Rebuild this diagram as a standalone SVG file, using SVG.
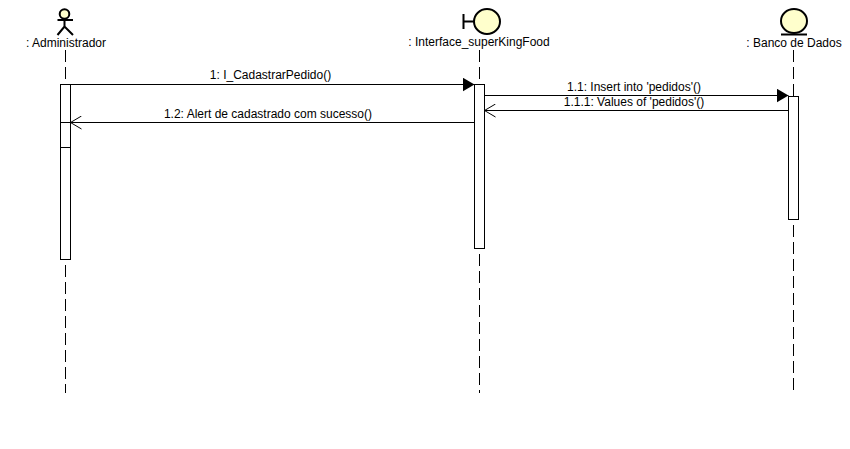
<svg xmlns="http://www.w3.org/2000/svg" width="850" height="449" viewBox="0 0 850 449">
<style>
text{font-family:"Liberation Sans",Arial,sans-serif;font-size:12px;fill:#000}
.m{text-anchor:middle}
.l{stroke:#000;stroke-width:1;fill:none}
.life{stroke:#000;stroke-width:1;fill:none;stroke-dasharray:12 5}
.act{stroke:#000;stroke-width:1;fill:#fff}
.ic{stroke:#000;stroke-width:2;fill:#ffffcc}
.ln{stroke:#000;stroke-width:2;fill:none}
</style>
<defs>
<marker id="f" markerUnits="userSpaceOnUse" markerWidth="13" markerHeight="14" refX="12" refY="7" orient="auto"><path d="M0 0L12 7L0 14Z" fill="#000"/></marker>
<marker id="o" markerUnits="userSpaceOnUse" markerWidth="13" markerHeight="14" refX="12" refY="7" orient="auto"><path d="M1 0.500L12 7L1 13.500" fill="none" stroke="#000"/></marker>
</defs>
<rect width="850" height="449" fill="#fff"/>
<g id="lifelines">
<path class="life" d="M65.500 50V84M65.500 265V393"/>
<path class="life" d="M479.500 50V84M479.500 254V393"/>
<path class="life" d="M793.500 50V96M793.500 225V393"/>
</g>
<g id="n-administrador">
<circle class="ic" cx="64.500" cy="14" r="4.800"/>
<path class="ln" d="M64.500 19V26.500M57.500 20H73M57.500 35L64.500 26.500L73 35"/>
<text class="m" x="66" y="47">: Administrador</text>
<rect class="act" x="60.500" y="84.500" width="10" height="175"/>
<path class="l" d="M60.500 122.500H70.500M60.500 147.500H70.500"/>
</g>
<g id="n-interface">
<ellipse class="ic" cx="487" cy="21.500" rx="13" ry="12.500"/>
<path class="ln" d="M463.500 14V29M463.500 21.500H474"/>
<text class="m" x="479" y="46">: Interface_superKingFood</text>
<rect class="act" x="474.500" y="84.500" width="10" height="164"/>
</g>
<g id="n-banco">
<ellipse class="ic" cx="794" cy="21" rx="13" ry="12"/>
<path class="ln" d="M781 34.500H807"/>
<text class="m" x="794" y="47">: Banco de Dados</text>
<rect class="act" x="788.500" y="96.500" width="10" height="123"/>
</g>
<g id="connectors">
<path class="l" d="M70.500 84.500H474.500" marker-end="url(#f)"/>
<path class="l" d="M484.500 95.500H788.500" marker-end="url(#f)"/>
<path class="l" d="M788.500 110.500H484.500" marker-end="url(#o)"/>
<path class="l" d="M474.500 122.500H70.500" marker-end="url(#o)"/>
</g>
<g id="labels">
<text class="m" x="270.500" y="79">1: I_CadastrarPedido()</text>
<text class="m" x="634" y="91">1.1: Insert into 'pedidos'()</text>
<text class="m" x="634" y="106">1.1.1: Values of 'pedidos'()</text>
<text class="m" x="268" y="118">1.2: Alert de cadastrado com sucesso()</text>
</g>
</svg>
